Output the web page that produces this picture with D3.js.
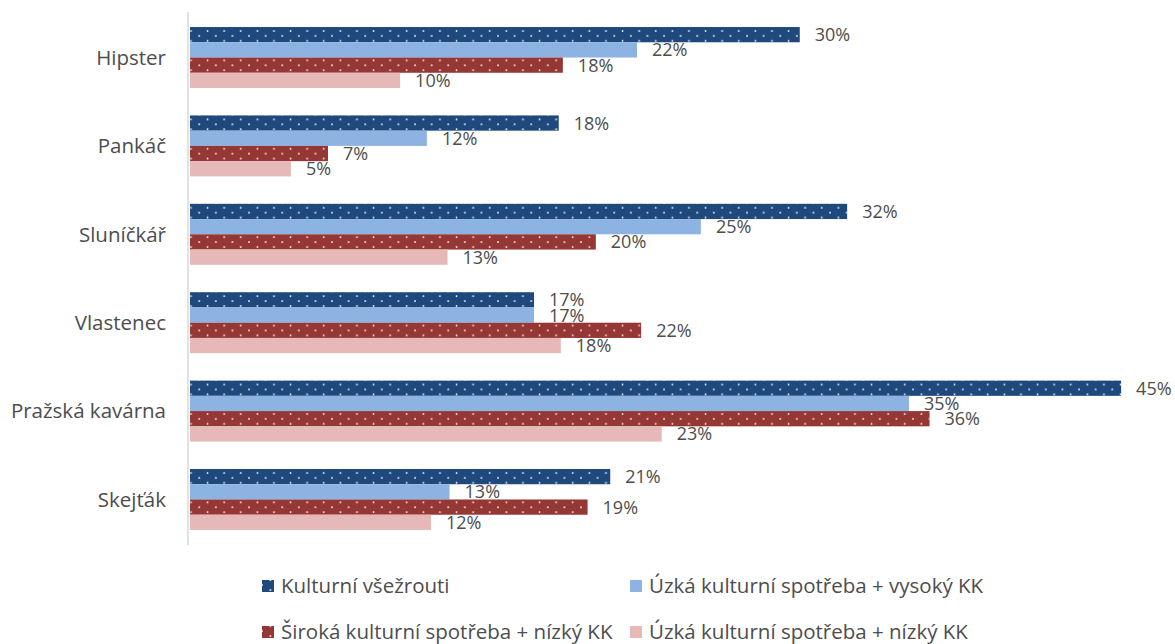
<!DOCTYPE html>
<html>
<head>
<meta charset="utf-8">
<script src="https://cdn.jsdelivr.net/npm/d3@7"></script>
<style>
  body { margin: 0; background: #fff; }
  svg text { font-family: "Open Sans", "Noto Sans", sans-serif; fill: #4d4d4d; }
</style>
</head>
<body>
<svg id="vis" width="1175" height="644"></svg>
<script>
// categories and series
const categories = ["Hipster", "Pankáč", "Sluníčkář", "Vlastenec", "Pražská kavárna", "Skejťák"];
const seriesNames = ["Kulturní všežrouti", "Úzká kulturní spotřeba + vysoký KK",
                     "Široká kulturní spotřeba + nízký KK", "Úzká kulturní spotřeba + nízký KK"];

// bar values (%)
const vsezrouti   = [29.6, 17.9, 31.9, 16.7, 45.2, 20.4];
const uzkaVysoky  = [21.7, 11.5, 24.8, 16.7, 34.9, 12.6];
const sirokaNizky = [18.1, 6.7, 19.7, 21.9, 35.9, 19.3];
const uzkaNizky   = [10.2, 4.9, 12.5, 18.0, 22.9, 11.7];

// data labels as printed in the chart
const lblVsezrouti   = ["30%", "18%", "32%", "17%", "45%", "21%"];
const lblUzkaVysoky  = ["22%", "12%", "25%", "17%", "35%", "13%"];
const lblSirokaNizky = ["18%", "7%", "20%", "22%", "36%", "19%"];
const lblUzkaNizky   = ["10%", "5%", "13%", "18%", "23%", "12%"];

const colors = ["#1f497d", "#8db3e2", "#953735", "#e6b9b8"];
const patterned = [true, false, true, false];

const allValues = [vsezrouti, uzkaVysoky, sirokaNizky, uzkaNizky];
const allLabels = [lblVsezrouti, lblUzkaVysoky, lblSirokaNizky, lblUzkaNizky];

const svg = d3.select("#vis");

// dotted patterns for the dark series
const defs = svg.append("defs");
colors.forEach((c, i) => {
  if (!patterned[i]) return;
  const p = defs.append("pattern")
    .attr("id", "dots" + i)
    .attr("patternUnits", "userSpaceOnUse")
    .attr("width", 16.6).attr("height", 9.8);
  p.append("rect").attr("width", 16.6).attr("height", 9.8).attr("fill", c);
  p.append("rect").attr("x", 7.6).attr("y", 3.2).attr("width", 1.5).attr("height", 1.6).attr("fill", "#fff");
  p.append("rect").attr("x", 15.9).attr("y", 8.1).attr("width", 1.5).attr("height", 1.6).attr("fill", "#fff");
  p.append("rect").attr("x", -0.7).attr("y", 8.1).attr("width", 1.5).attr("height", 1.6).attr("fill", "#fff");
});

const y = d3.scaleBand()
  .domain(categories)
  .range([12, 545])
  .paddingInner(0.31)
  .paddingOuter(0.17);

const ySub = d3.scaleBand()
  .domain(d3.range(4))
  .range([0, y.bandwidth()]);

const x = d3.scaleLinear()
  .domain([0, 50])
  .range([190, 1220]);

// bars
const groups = svg.selectAll(".cat")
  .data(categories)
  .join("g")
    .attr("class", "cat")
    .attr("transform", d => `translate(0, ${y(d)})`);

groups.each(function(cat, ci) {
  const g = d3.select(this);
  const rows = allValues.map((vals, si) => ({ si: si, v: vals[ci], label: allLabels[si][ci] }));
  g.selectAll("rect")
    .data(rows)
    .join("rect")
      .attr("x", x(0))
      .attr("y", d => ySub(d.si))
      .attr("width", d => x(d.v) - x(0))
      .attr("height", ySub.bandwidth())
      .attr("fill", d => patterned[d.si] ? `url(#dots${d.si})` : colors[d.si]);
  g.selectAll("text")
    .data(rows)
    .join("text")
      .attr("x", d => x(d.v) + 15)
      .attr("y", d => ySub(d.si) + ySub.bandwidth() / 2)
      .attr("dy", "0.36em")
      .style("font-size", "18px")
      .text(d => d.label);
});

// vertical axis line + category labels
svg.append("line")
  .attr("x1", 188).attr("x2", 188)
  .attr("y1", 12).attr("y2", 545)
  .attr("stroke", "#d9d9d9").attr("stroke-width", 1.5);

svg.selectAll(".catlabel")
  .data(categories)
  .join("text")
    .attr("class", "catlabel")
    .attr("x", 166)
    .attr("y", d => y(d) + y.bandwidth() / 2)
    .attr("dy", "0.36em")
    .attr("text-anchor", "end")
    .style("font-size", "20.5px")
    .text(d => d);

// legend
const legendPos = [[262, 586], [630, 586], [262, 632], [630, 632]];
const legend = svg.selectAll(".leg")
  .data(seriesNames)
  .join("g")
    .attr("class", "leg")
    .attr("transform", (d, i) => `translate(${legendPos[i][0]}, ${legendPos[i][1]})`);
legend.append("rect")
  .attr("x", 0).attr("y", -6)
  .attr("width", 12).attr("height", 12)
  .attr("fill", (d, i) => patterned[i] ? `url(#dots${i})` : colors[i]);
legend.append("text")
  .attr("x", 19)
  .attr("dy", "0.36em")
  .style("font-size", "20.5px")
  .text(d => d);
</script>
</body>
</html>
